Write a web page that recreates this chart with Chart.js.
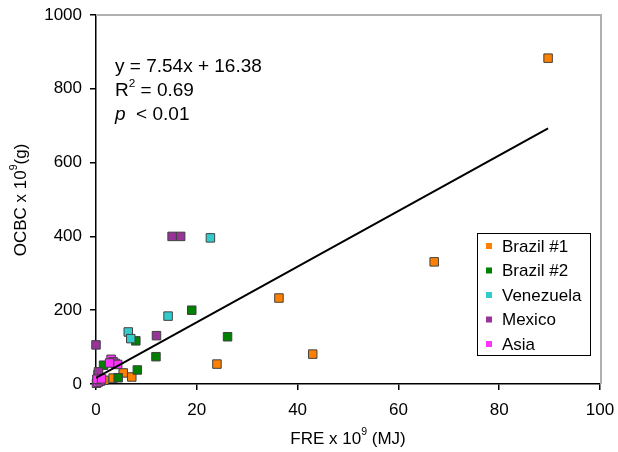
<!DOCTYPE html>
<html>
<head>
<meta charset="utf-8">
<script src="https://cdn.jsdelivr.net/npm/chart.js@4/dist/chart.umd.min.js"></script>
<style>
  body { margin: 0; background: #fff; }
  #wrap { width: 618px; height: 452px; }
</style>
</head>
<body>
<div id="wrap"><canvas id="myChart" width="618" height="452"></canvas></div>
<script>
// FRE (x, MJ x 10^9) vs OCBC (y, g x 10^9) per source region
const brazil1 = [[89.7, 883], [67.1, 331], [36.3, 233], [43.0, 81], [24.0, 54], [5.4, 30], [7.1, 19], [3.4, 16], [1.6, 10]]
const brazil2 = [[19.0, 200], [26.1, 128], [11.9, 74], [7.9, 117], [8.2, 38], [4.4, 17], [1.5, 51], [0.4, 6]]
const venezuela = [[22.7, 396], [14.3, 184], [6.4, 141], [6.9, 123], [0.9, 8], [0.4, 26]]
const mexico = [[15.1, 400], [16.8, 400], [12.0, 131], [0.0, 106], [0.5, 33], [0.2, 12]]
const asia = [[3.0, 67], [3.4, 60], [3.8, 56], [4.3, 53], [2.7, 57], [0.1, 2], [0.4, 5], [0.8, 9], [0.2, 13], [1.1, 14]]

const seriesNames = ["Brazil #1", "Brazil #2", "Venezuela", "Mexico", "Asia"]
const seriesColors = ["#ff8000", "#008000", "#33cccc", "#993399", "#ff33ff"]

// regression: y = 7.54x + 16.38
const slope = 7.54
const intercept = 16.38
const fitRange = [0, 89.7]

const xTicks = [0, 20, 40, 60, 80, 100]
const yTicks = [0, 200, 400, 600, 800, 1000]

const FONT = "Liberation Sans, Arial, sans-serif"

function toPoints(arr){
  return arr.map(p => ({x: p[0], y: p[1]}))
}

const allSeries = [brazil1, brazil2, venezuela, mexico, asia]
const datasets = allSeries.map((s, i) => ({
  label: seriesNames[i],
  data: toPoints(s),
  backgroundColor: seriesColors[i],
  borderColor: "#404040",
  borderWidth: 1,
  pointStyle: "rect",
  pointRadius: 6,
  pointHoverRadius: 6,
  clip: false,
  order: allSeries.length - i
}))

datasets.push({
  label: "fit",
  data: fitRange.map(x => ({x: x, y: slope * x + intercept})),
  showLine: true,
  borderColor: "#000",
  borderWidth: 2,
  pointRadius: 0,
  order: 0
})

function partFont(p, size){
  return (p.italic ? "italic " : "") + (p.sup ? size * 0.62 : size) + "px " + FONT
}

function measureParts(ctx, parts, size){
  let w = 0
  parts.forEach(p => {
    ctx.font = partFont(p, size)
    w += ctx.measureText(p.t).width
  })
  return w
}

// draws text pieces in a row, raising the superscript ones
function drawSup(ctx, parts, x, y, size){
  let cx = x
  parts.forEach(p => {
    ctx.font = partFont(p, size)
    ctx.fillText(p.t, cx, p.sup ? y - size * 0.38 : y)
    cx += ctx.measureText(p.t).width
  })
}

const decorations = {
  id: "decorations",
  afterDraw(chart){
    const ctx = chart.ctx
    const a = chart.chartArea
    ctx.save()

    // grey frame on top and right
    ctx.strokeStyle = "#b0b0b0"
    ctx.lineWidth = 2
    ctx.beginPath()
    ctx.moveTo(a.left, a.top)
    ctx.lineTo(a.right + 1, a.top)
    ctx.lineTo(a.right + 1, a.bottom)
    ctx.stroke()

    ctx.fillStyle = "#000"
    ctx.textBaseline = "middle"
    ctx.textAlign = "left"

    // regression text
    drawSup(ctx, [{t: "y = 7.54x + 16.38"}], 115, 67, 19)
    drawSup(ctx, [{t: "R"}, {t: "2", sup: true}, {t: " = 0.69"}], 115, 91, 19)
    drawSup(ctx, [{t: "p", italic: true}, {t: "  < 0.01"}], 115, 115, 19)

    // x axis title
    const xt = [{t: "FRE x 10"}, {t: "9", sup: true}, {t: " (MJ)"}]
    const xw = measureParts(ctx, xt, 17)
    drawSup(ctx, xt, 348 - xw / 2, 439, 17)

    // y axis title, rotated
    const yt = [{t: "OCBC x 10"}, {t: "9", sup: true}, {t: "(g)"}]
    const yw = measureParts(ctx, yt, 17)
    ctx.save()
    ctx.translate(21, 200)
    ctx.rotate(-Math.PI / 2)
    drawSup(ctx, yt, -yw / 2, 0, 17)
    ctx.restore()

    // legend box
    const lx = 477, ly = 233, lw = 113, lh = 122
    ctx.fillStyle = "#fff"
    ctx.fillRect(lx, ly, lw, lh)
    ctx.strokeStyle = "#000"
    ctx.lineWidth = 1
    ctx.strokeRect(lx + 0.5, ly + 0.5, lw, lh)
    ctx.font = "17px " + FONT
    seriesNames.forEach((name, i) => {
      const yy = 246 + i * 24.5
      ctx.fillStyle = seriesColors[i]
      ctx.fillRect(486, yy - 3, 6, 6)
      ctx.fillStyle = "#000"
      ctx.fillText(name, 502, yy + 1)
    })

    ctx.restore()
  }
}

new Chart("myChart", {
  type: "scatter",
  data: { datasets: datasets },
  options: {
    responsive: false,
    animation: false,
    layout: { padding: { top: 15, right: 18, left: 0, bottom: 0 } },
    plugins: {
      legend: { display: false },
      tooltip: { enabled: false }
    },
    scales: {
      x: {
        min: xTicks[0],
        max: xTicks[xTicks.length - 1],
        afterBuildTicks(scale){ scale.ticks = xTicks.map(v => ({value: v})) },
        afterFit(scale){
          scale.height = 68
          scale.paddingLeft = 0
          scale.paddingRight = 0
        },
        grid: { drawOnChartArea: false, tickLength: 6, color: "#000", lineWidth: 1.5 },
        border: { color: "#000", width: 1.5 },
        ticks: { color: "#000", font: { family: FONT, size: 17 }, padding: 10, maxRotation: 0, callback: v => String(v) }
      },
      y: {
        min: yTicks[0],
        max: yTicks[yTicks.length - 1],
        afterBuildTicks(scale){ scale.ticks = yTicks.map(v => ({value: v})) },
        afterFit(scale){
          scale.width = 96
          scale.paddingTop = 0
          scale.paddingBottom = 0
        },
        grid: { drawOnChartArea: false, tickLength: 6, color: "#000", lineWidth: 1.5 },
        border: { color: "#000", width: 1.5 },
        ticks: { color: "#000", font: { family: FONT, size: 17 }, padding: 8, callback: v => String(v) }
      }
    }
  },
  plugins: [decorations]
})
</script>
</body>
</html>
